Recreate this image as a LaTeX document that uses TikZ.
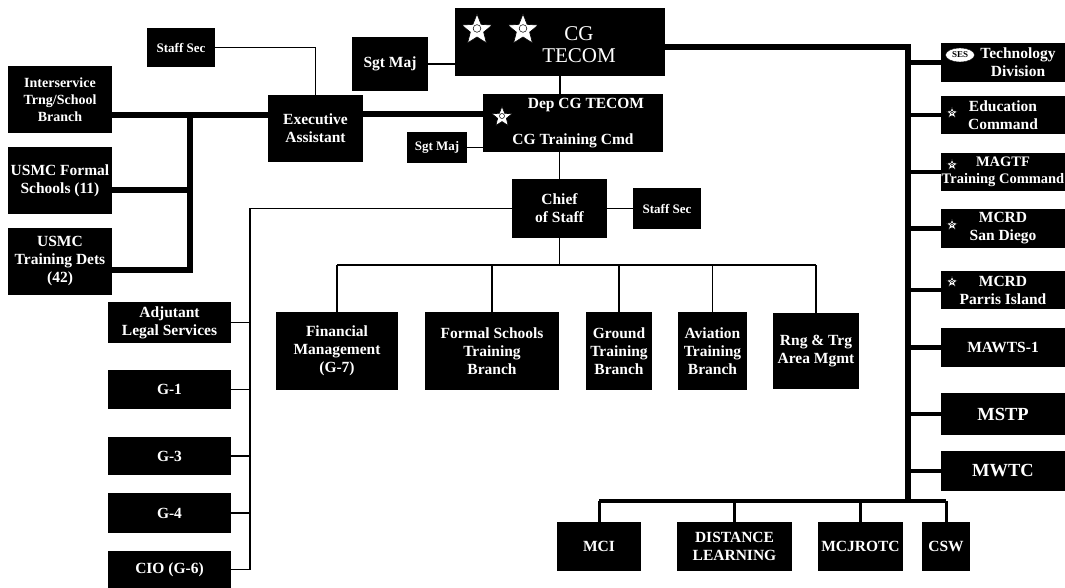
\documentclass[tikz,border=0pt]{standalone}
\usepackage{fontspec}
\setmainfont{Liberation Serif}
\usetikzlibrary{shapes.geometric}

\begin{document}
\begin{tikzpicture}[x=1pt,y=-1pt,
  box/.style={fill=black,text=white,inner sep=0pt,align=center,font=\bfseries\fontsize{15.5}{18}\selectfont},
  small/.style={font=\bfseries\fontsize{13}{15}\selectfont},
  big/.style={font=\bfseries\fontsize{18.5}{20}\selectfont},
  wire/.style={line width=1.2pt},
  bus/.style={line width=6pt},
  tap/.style={line width=4.5pt},
  badge/.style={star,star points=5,star point ratio=2.3,draw=black,fill=white,inner sep=0pt,line width=0.6pt,minimum size=#1,
    path picture={\draw[line width=0.5pt] (path picture bounding box.center) circle[radius=#1*0.12];}}]
\useasboundingbox (0,0) rectangle (1065,588);

% front office
\node[box,minimum width=210,minimum height=68] (cg) at (560,42) {};
\node[text=white,align=center,font=\fontsize{21}{22}\selectfont] (cgtext) at (579,45) {CG\\TECOM};
\node[badge=32] (cgstar1) at (477,30) {};
\node[badge=32] (cgstar2) at (523,30) {};
\node[box,minimum width=76,minimum height=54] (sgt1) at (390,64) {Sgt Maj};
\node[box,minimum width=180,minimum height=58] (dep) at (573,123) {\hspace*{26pt}Dep CG TECOM\\[18pt]CG Training Cmd};
\node[badge=21] (depstar) at (502,117) {};
\node[box,small,minimum width=60,minimum height=31] (sgt2) at (437,147.5) {Sgt Maj};
\node[box,minimum width=95,minimum height=59] (cos) at (559.5,208.5) {Chief\\of Staff};
\node[box,small,minimum width=68,minimum height=41] (ss2) at (667,208.5) {Staff Sec};

% executive assistant group
\node[box,small,minimum width=68,minimum height=39] (ss1) at (181,47.5) {Staff Sec};
\node[box,minimum width=95,minimum height=67] (ea) at (315.5,128.5) {Executive\\Assistant};
\node[box,font=\bfseries\fontsize{14}{17}\selectfont,minimum width=104,minimum height=67] (isb) at (60,99.5) {Interservice\\Trng/School\\Branch};
\node[box,minimum width=104,minimum height=67] (usfs) at (60,180.5) {USMC Formal\\Schools (11)};
\node[box,minimum width=104,minimum height=67] (ustd) at (60,261.5) {USMC\\Training Dets\\(42)};

% branches
\node[box,minimum width=122,minimum height=78] (fm) at (337,351) {Financial\\Management\\(G-7)};
\node[box,minimum width=134,minimum height=78] (fstb) at (492,351) {Formal Schools\\Training\\Branch};
\node[box,minimum width=66,minimum height=78] (gtb) at (619,351) {Ground\\Training\\Branch};
\node[box,minimum width=69,minimum height=78] (atb) at (712.5,351) {Aviation\\Training\\Branch};
\node[box,minimum width=86,minimum height=76] (rtam) at (816,351) {Rng \& Trg\\Area Mgmt};

% special staff
\node[box,minimum width=123,minimum height=41] (adj) at (169.5,322.5) {Adjutant\\Legal Services};
\node[box,minimum width=123,minimum height=39] (g1) at (169.5,389.5) {G-1};
\node[box,minimum width=123,minimum height=38] (g3) at (169.5,456) {G-3};
\node[box,minimum width=123,minimum height=40] (g4) at (169.5,513) {G-4};
\node[box,minimum width=123,minimum height=37] (cio) at (169.5,569.5) {CIO (G-6)};

% subordinate commands
\node[box,minimum width=124,minimum height=39] (tech) at (1003,62.5) {\hspace*{30pt}Technology\\\hspace*{30pt}Division};
\node[ellipse,draw=black,fill=white,inner sep=0pt,minimum width=29,minimum height=14,font=\bfseries\fontsize{9}{9}\selectfont] (ses) at (960,55) {SES};
\node[box,minimum width=124,minimum height=38] (edu) at (1003,115) {Education\\Command};
\node[box,font=\bfseries\fontsize{14.5}{17}\selectfont,minimum width=124,minimum height=38] (mtc) at (1003,172) {MAGTF\\Training Command};
\node[box,minimum width=124,minimum height=39] (sd) at (1003,228.5) {MCRD\\San Diego};
\node[box,minimum width=124,minimum height=38] (pi) at (1003,290) {MCRD\\Parris Island};
\node[box,minimum width=124,minimum height=39] (mawts) at (1003,347.5) {MAWTS-1};
\node[box,big,minimum width=124,minimum height=42] (mstp) at (1003,414) {MSTP};
\node[box,big,minimum width=124,minimum height=40] (mwtc) at (1003,471) {MWTC};
\foreach \n/\y in {edustar/113,mtcstar/165,sdstar/225,pistar/282}
  \node[badge=12] (\n) at (952,\y) {};

\node[box,minimum width=84,minimum height=49] (mci) at (599,546.5) {MCI};
\node[box,minimum width=115,minimum height=49] (dl) at (734.5,546.5) {DISTANCE\\LEARNING};
\node[box,minimum width=85,minimum height=49] (jrotc) at (860.5,546.5) {MCJROTC};
\node[box,minimum width=48,minimum height=49] (csw) at (946,546.5) {CSW};

% connectors
\coordinate (lbus) at (190,115);
\coordinate (lbot) at (190,270);
\coordinate (stfbot) at (250,569.5);
\coordinate (brbus) at (0,265);
\coordinate (spinebot) at (908,501);

\draw[wire] (ss1) -| (ea);
\draw[bus] (isb.east |- lbus) -- (ea.west |- lbus);
\draw[bus] (lbus) -- (lbot) -- (ustd.east |- lbot);
\draw[bus] (usfs.east |- 0,190) -- (lbus |- 0,190);
\draw[bus] (ea.east |- 0,114) -- (dep.west |- 0,114);

\draw[wire] (sgt1.east) -- (sgt1.east -| cg.west);
\draw[wire] (cg.south) -- (cg.south |- dep.north);
\draw[wire] (sgt2) -- (sgt2 -| dep.west);
\draw[wire] (dep.south -| cos) -- (cos);
\draw[wire] (cos) -- (ss2);

\draw[wire] (cos) -| (stfbot);
\foreach \n in {adj,g1,g3,g4,cio}
  \draw[wire] (\n) -- (\n -| stfbot);

\draw[wire] (cos) -- (cos |- brbus);
\draw[wire] (fm |- brbus) -- (rtam |- brbus);
\foreach \n in {fm,fstb,gtb,atb,rtam}
  \draw[wire] (\n |- brbus) -- (\n);

\draw[bus] (cg.east |- 0,47) -| (spinebot);
\foreach \n in {tech,edu,mtc,sd,pi,mawts,mstp,mwtc}
  \draw[tap] (spinebot |- \n) -- (\n);
\draw[line width=4pt] (mci |- spinebot) -- (csw |- spinebot);
\foreach \n in {mci,dl,jrotc,csw}
  \draw[line width=3pt] (\n |- spinebot) -- (\n);
\end{tikzpicture}
\end{document}
